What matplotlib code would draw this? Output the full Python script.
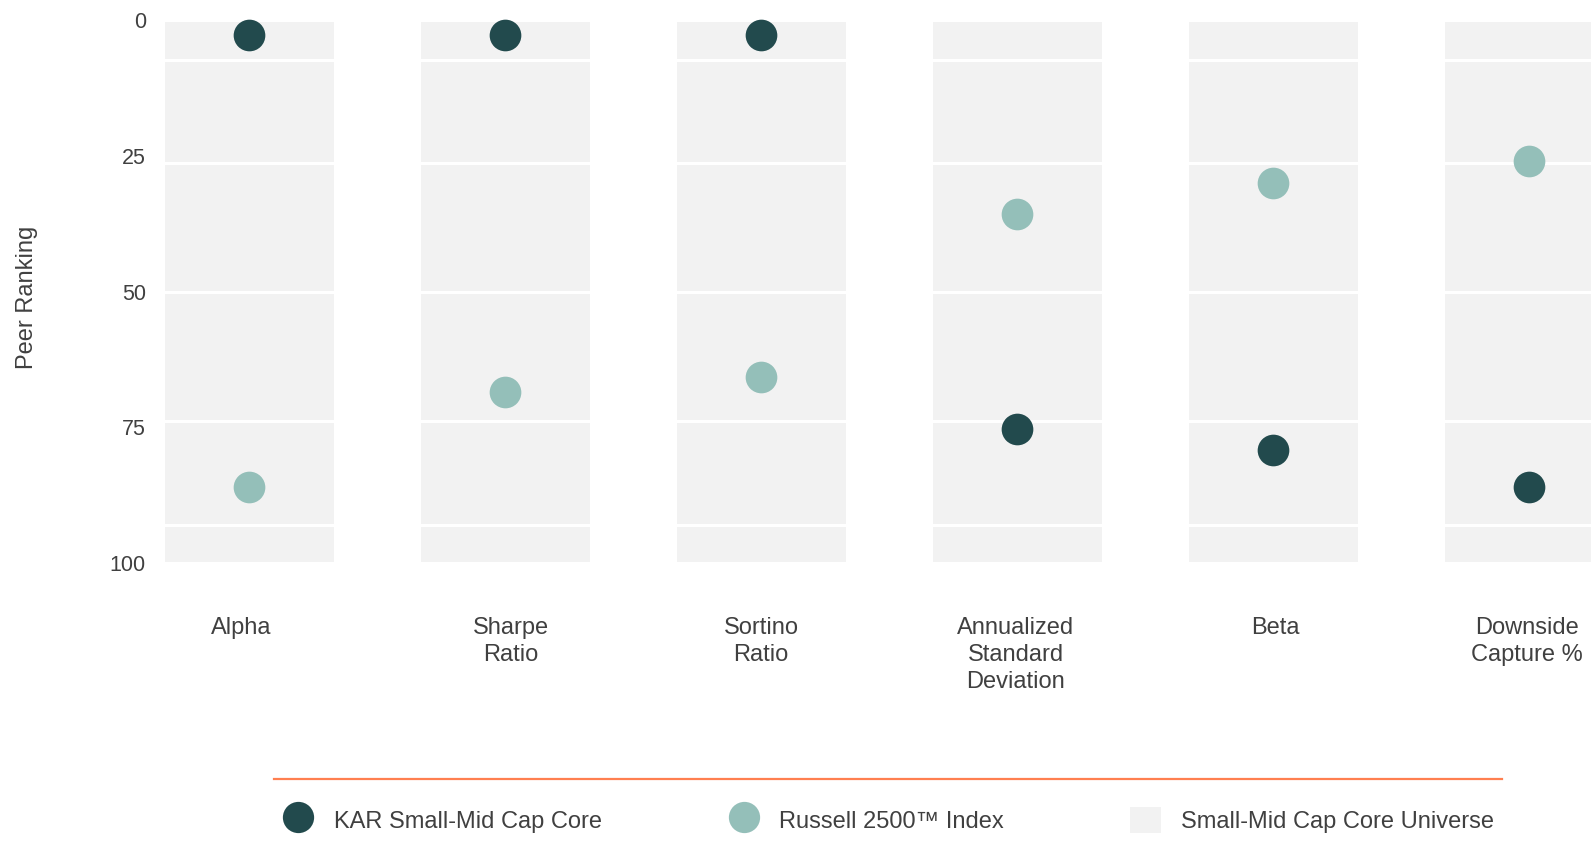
import matplotlib
matplotlib.use("Agg")
import matplotlib.pyplot as plt
from matplotlib.lines import Line2D
from matplotlib.patches import Patch
from matplotlib.transforms import ScaledTranslation
import numpy as np

# ---- data ----
categories = ["Alpha", "Sharpe\nRatio", "Sortino\nRatio",
              "Annualized\nStandard\nDeviation", "Beta", "Downside\nCapture %"]
kar_rank = [2.8, 2.8, 2.8, 75.3, 79.2, 86.0]
russell_rank = [86.0, 68.5, 65.7, 35.7, 30.0, 26.0]
universe_bounds = [0, 7.4, 26.3, 50.1, 73.8, 93.0, 100]
y_ticks = [0, 25, 50, 75, 100]
series_names = ["KAR Small-Mid Cap Core", "Russell 2500™ Index", "Small-Mid Cap Core Universe"]

# ---- style ----
C_KAR = "#224A4D"
C_RUS = "#94BFB9"
C_BAR = "#F2F2F2"
C_TXT = "#404040"
C_ORANGE = "#FF7F50"
plt.rcParams['font.family'] = ['Liberation Sans', 'DejaVu Sans']

W, H = 1591, 857
fig = plt.figure(figsize=(W / 100, H / 100), dpi=100)
ax_left, ax_right, ax_top, ax_bot = 150, 1591, 20, 563
ax = fig.add_axes([ax_left / W, 1 - ax_bot / H, (ax_right - ax_left) / W, (ax_bot - ax_top) / H])

x = np.arange(len(categories))
bw = 172 / 256
for lo, hi in zip(universe_bounds[:-1], universe_bounds[1:]):
    ax.bar(x, hi - lo, bottom=lo, width=bw, color=C_BAR, edgecolor="white",
           linewidth=2.2, zorder=1)

ax.scatter(x, kar_rank, s=520, color=C_KAR, zorder=3, clip_on=False, linewidths=0)
ax.scatter(x, russell_rank, s=520, color=C_RUS, zorder=3, clip_on=False, linewidths=0)

ax.set_xlim((ax_left - 249) / 256, (ax_right - 249) / 256)
ax.set_ylim(100, 0)
ax.set_yticks(y_ticks)
ax.set_yticklabels([str(t) for t in y_ticks], fontsize=15.5, color=C_TXT)
ax.set_xticks(x)
ax.set_xticklabels(categories, fontsize=17, color=C_TXT, linespacing=1.3, va="top")
ax.tick_params(axis="x", length=0, pad=39)
ax.tick_params(axis="y", length=0, pad=3)
# small horizontal nudges of category labels (pixels)
label_nudge_px = [-8, 6, 0, -1, 2, -2]
for lab, dx in zip(ax.get_xticklabels(), label_nudge_px):
    lab.set_transform(lab.get_transform() + ScaledTranslation(dx / 100, 0, fig.dpi_scale_trans))
for s in ax.spines.values():
    s.set_visible(False)
ax.set_ylabel("Peer Ranking", fontsize=17, color=C_TXT)
ax.yaxis.set_label_coords((38 - ax_left) / (ax_right - ax_left), (563 - 297) / 543)

# orange separator line
fig.add_artist(Line2D([274 / W, 1502 / W], [1 - 779 / H, 1 - 779 / H],
                      transform=fig.transFigure, color=C_ORANGE, linewidth=1.6))

handles = [
    Line2D([], [], marker="o", linestyle="none", markersize=22.5, color=C_KAR, markeredgewidth=0),
    Line2D([], [], marker="o", linestyle="none", markersize=22.5, color=C_RUS, markeredgewidth=0),
    Patch(facecolor=C_BAR, edgecolor="none"),
]
leg = fig.legend(handles, series_names, loc="center left",
                 bbox_to_anchor=(283 / W, 1 - 820 / H), bbox_transform=fig.transFigure,
                 ncol=3, frameon=False, fontsize=17, borderpad=0, borderaxespad=0,
                 handlelength=1.31, handleheight=1.31, handletextpad=0.85,
                 columnspacing=5.35)
for t in leg.get_texts():
    t.set_color(C_TXT)

fig.savefig("out.png", dpi=100)
